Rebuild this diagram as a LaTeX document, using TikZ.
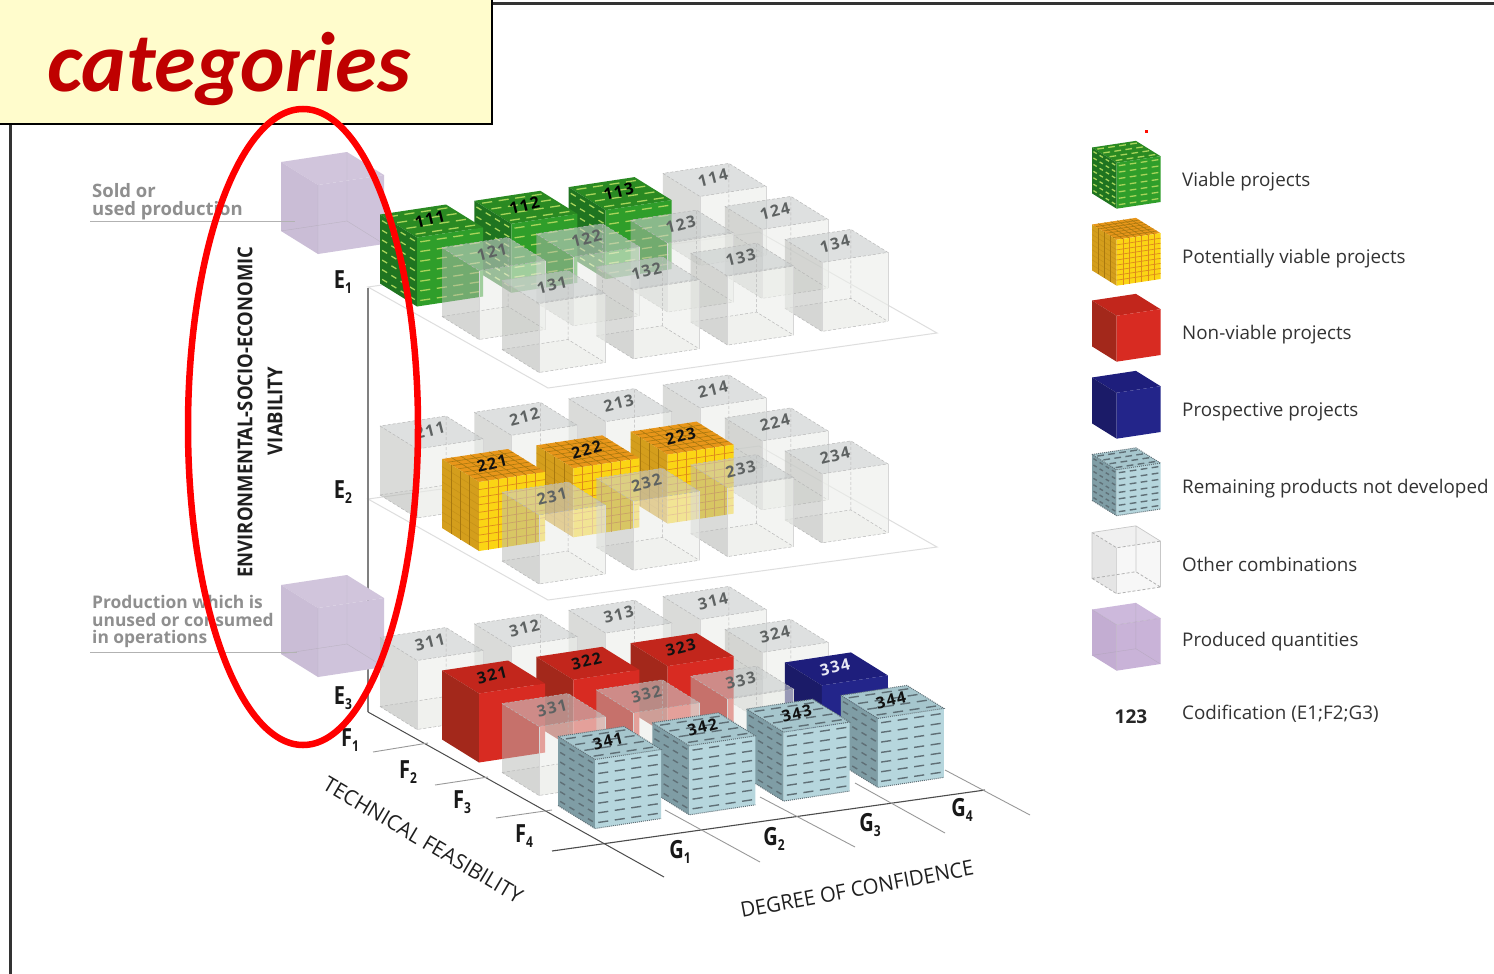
\documentclass[tikz,border=0pt]{standalone}
\usepackage{fontspec}
\setmainfont{Open Sans}
\newfontfamily\calib{Carlito}
\newfontfamily\labfont[LetterSpace=9]{Open Sans}
\definecolor{gtop}{HTML}{2A8A22}\definecolor{gleft}{HTML}{1F7420}\definecolor{gright}{HTML}{2F9E2A}\definecolor{gdash}{HTML}{A8D45A}
\definecolor{ytop}{HTML}{E8961A}\definecolor{yleft}{HTML}{D49E1C}\definecolor{yright}{HTML}{FBD514}\definecolor{yline}{HTML}{DD8A1C}\definecolor{ystripe}{HTML}{A8780F}
\definecolor{rtop}{HTML}{C2261C}\definecolor{rleft}{HTML}{A3281B}\definecolor{rright}{HTML}{D82B22}
\definecolor{btop}{HTML}{1E1E7C}\definecolor{bleft}{HTML}{1B1B68}\definecolor{bright}{HTML}{23258A}
\definecolor{ctop}{HTML}{A6C6CD}\definecolor{cleft}{HTML}{7F9DA5}\definecolor{cright}{HTML}{B6D6DD}\definecolor{cdash}{HTML}{5F6F76}
\definecolor{ptop}{HTML}{D1C5DC}\definecolor{pleft}{HTML}{CABDD6}\definecolor{pright}{HTML}{CFC3DB}
\definecolor{qtop}{HTML}{CDB9DC}\definecolor{qleft}{HTML}{C3ADD2}\definecolor{qright}{HTML}{C9B3D8}
\definecolor{labgreen}{HTML}{000000}\definecolor{labyellow}{HTML}{111111}\definecolor{labred}{HTML}{111111}\definecolor{labblue}{HTML}{E8E8F4}\definecolor{labcyan}{HTML}{111111}\definecolor{labghost}{HTML}{5E6262}
\definecolor{gface}{HTML}{B6B8B4}\definecolor{gfront}{HTML}{ECEEEA}\definecolor{gcap}{HTML}{C8CCCC}
\definecolor{legtext}{HTML}{333333}\definecolor{grayt}{HTML}{8F8F8F}
\newcommand\sbs[1]{\raisebox{-.38ex}{\fontsize{15}{15}\selectfont #1}}
\tikzset{
 lab/.style={font=\labfont\bfseries\fontsize{16}{16}\selectfont,rotate=14,inner sep=0pt},
 axlab/.style={font=\bfseries\fontsize{25}{25}\selectfont,text=black!90,inner sep=0pt,xscale=.8},
 legt/.style={font=\fontsize{18.8}{20}\selectfont,text=legtext,anchor=west,inner sep=0pt},
 sidet/.style={font=\bfseries\fontsize{18.5}{18}\selectfont,text=grayt,anchor=base west,inner sep=0pt},
 sidetb/.style={font=\bfseries\fontsize{17.4}{18}\selectfont,text=grayt,anchor=base west,inner sep=0pt},
 axt/.style={font=\fontsize{21}{21}\selectfont,text=black!88,inner sep=0pt},
 axb/.style={font=\bfseries\fontsize{20.5}{21}\selectfont,text=black!88,inner sep=0pt},
 gridl/.style={draw=black!40,line width=.9pt},
 plane/.style={fill=white,draw=black!13,line width=1pt},
 hid/.style={draw=black!28,line width=.5pt,densely dashed}
}
\newcommand\faces[3]{%
 \fill[#1] (0,0)--(66,-10)--(103,13)--(37,23)--cycle;
 \fill[#2] (0,0)--(37,23)--(37,92)--(0,69)--cycle;
 \fill[#3] (37,23)--(103,13)--(103,82)--(37,92)--cycle;}
\newcommand\dashes[2]{%
 \foreach \u in {.125,.375,.625,.875}{\foreach \v in {.07,.21,.35,.5,.64,.78,.92}{%
  \draw[#1,line width=#2] ({37+66*\u-5},{23-10*\u+69*\v+.75})--++(10,-1.5);
  \draw[#1,line width=#2] ({37*\u-2.5},{23*\u+69*\v-1.5})--++(5,3);}}%
 \foreach \u in {.125,.375,.625,.875}{\foreach \v in {.125,.375,.625,.875}{%
  \draw[#1,line width=#2] ({37*\u+66*\v-5},{23*\u-10*\v+.75})--++(10,-1.5);}}}
\newcommand\cubegreen{\faces{gtop}{gleft}{gright}\dashes{gdash}{1.3pt}}
\newcommand\cubecyan{\faces{ctop}{cleft}{cright}\dashes{cdash}{1.4pt}%
 \draw[cdash,line width=1pt,densely dotted] (0,0)--(66,-10)--(103,13)--(37,23)--cycle (0,69)--(37,92)--(103,82);}
\newcommand\cubeyellow{\faces{ytop}{yleft}{yright}%
 \foreach \v in {.11,.22,...,.95}{\draw[yline,line width=.7pt] (37,{23+69*\v})--(103,{13+69*\v});
  \draw[ystripe,opacity=.35,line width=.5pt] (0,{69*\v})--(37,{23+69*\v});}
 \foreach \u in {.143,.286,.429,.571,.714,.857}{\draw[yline,line width=.7pt] ({37+66*\u},{23-10*\u})--++(0,69);
  \draw[ystripe,line width=.6pt] ({66*\u},{-10*\u})--++(37,23);
  \draw[ystripe,line width=.6pt] ({37*\u},{23*\u})--++(66,-10);}
 \foreach \u in {.25,.5,.75}{\draw[ystripe,line width=.7pt] ({37*\u},{23*\u})--++(0,69);}}
\newcommand\cubered{\faces{rtop}{rleft}{rright}}
\newcommand\cubeblue{\faces{btop}{bleft}{bright}}
\newcommand\cubepurple{\faces{ptop}{pleft}{pright}%
 \draw[black!40,line width=.4pt,opacity=.35] (66,-10)--(66,59)--(0,69) (66,59)--(103,82) (37,23)--(37,92);}
\newcommand\cubepurpleleg{\faces{qtop}{qleft}{qright}%
 \draw[black!40,line width=.4pt,opacity=.35] (66,-10)--(66,59)--(0,69) (66,59)--(103,82) (37,23)--(37,92) (0,0)--(37,23)--(103,13);}
\newcommand\cubeghost{%
 \fill[gface,opacity=.12] (0,69)--(66,59)--(103,82)--(37,92)--cycle;
 \fill[gface,opacity=.5] (0,0)--(37,23)--(37,92)--(0,69)--cycle;
 \fill[gfront,opacity=.6] (37,23)--(103,13)--(103,82)--(37,92)--cycle;
 \fill[gcap,opacity=.6] (0,0)--(66,-10)--(103,13)--(37,23)--cycle;
 \draw[hid] (0,69)--(66,59)--(103,82) (66,59)--(66,-10) (0,69)--(37,92)--(103,82) (0,0)--(37,23)--(103,13)--(66,-10)--cycle;
 \draw[draw=black!16,line width=.4pt] (37,23)--(37,92) (103,13)--(103,82);}
\newcommand\cubepale{%
 \fill[black!10] (0,0)--(37,23)--(37,92)--(0,69)--cycle;
 \fill[black!3] (37,23)--(103,13)--(103,82)--(37,92)--cycle;
 \fill[black!6] (0,0)--(66,-10)--(103,13)--(37,23)--cycle;
 \draw[black!30,line width=.8pt,densely dashed] (0,0)--(37,23)--(103,13) (0,69)--(66,59)--(103,82) (0,69)--(37,92)--(103,82);
 \draw[black!22,line width=.7pt] (0,0)--(66,-10)--(103,13)--(103,82) (0,0)--(0,69) (37,23)--(37,92) (66,-10)--(66,59);}
\newcommand\putcube[4]{\begin{scope}[shift={(#1,#2)},scale=#3]\csname cube#4\endcsname\end{scope}}
\begin{document}
\begin{tikzpicture}[x=1pt,y=-1pt]
\useasboundingbox (0,0) rectangle (1494,974);
\fill[white] (0,0) rectangle (1494,974);
% frame
\coordinate (ft) at (492,4);\coordinate (fr) at (1494,4);
\draw[black!80,line width=3pt] (ft)--(fr);
\coordinate (fl) at (10,124);\coordinate (fb) at (10,974);
\draw[black!80,line width=3pt] (fl)--(fb);
% planes
\filldraw[plane] (368,287)--(548,388)--(937,333)--(759,232)--cycle;
\filldraw[plane] (368,499)--(548,600)--(937,547)--(759,446)--cycle;
% axis
\coordinate (v1) at (368,288);\coordinate (v2) at (368,712);
\draw[black!50,line width=1.4pt] (v1)--(v2);
\coordinate (fa) at (664,877);
\draw[black!70,line width=1pt] (v2)--(fa);
\coordinate (ga1) at (552,851);\coordinate (ga2) at (985,790);
\draw[black!70,line width=1.1pt] (ga1)--(ga2);
\draw[gridl] (373,752)--(428,743);
\draw[gridl] (435,785)--(488,777);
\draw[gridl] (496,818)--(552,810);
\draw[gridl] (665,810)--(760,862);
\draw[gridl] (760,797)--(855,847);
\draw[gridl] (855,783)--(945,833);
\draw[gridl] (945,770)--(1030,815);
% purple
\putcube{281}{162}{1}{purple}
\putcube{281}{585}{1}{purple}
% grid cubes
\foreach \e/\f/\g/\t in {
 1/1/4/ghost,1/1/3/green,1/1/2/green,1/1/1/green,
 1/2/4/ghost,1/2/3/ghost,1/2/2/ghost,1/2/1/ghost,
 1/3/4/ghost,1/3/3/ghost,1/3/2/ghost,1/3/1/ghost,
 2/1/4/ghost,2/1/3/ghost,2/1/2/ghost,2/1/1/ghost,
 2/2/4/ghost,2/2/3/yellow,2/2/2/yellow,2/2/1/yellow,
 2/3/4/ghost,2/3/3/ghost,2/3/2/ghost,2/3/1/ghost,
 3/1/4/ghost,3/1/3/ghost,3/1/2/ghost,3/1/1/ghost,
 3/2/4/ghost,3/2/3/red,3/2/2/red,3/2/1/red,
 3/3/4/blue,3/3/3/ghost,3/3/2/ghost,3/3/1/ghost,
 3/4/4/cyan,3/4/3/cyan,3/4/2/cyan,3/4/1/cyan}{
 \pgfmathtruncatemacro\fidx{\f-1}
 \pgfmathsetmacro\off{{0,62,122,178}[\fidx]}
 \pgfmathsetmacro\cx{380+\off+(\g-1)*94.3}
 \pgfmathsetmacro\cy{219+(\e-1)*211.5-(\g-1)*13.7+(\f-1)*33}
 \putcube{\cx}{\cy-4.5}{1}{\t}
 \node[lab,text=lab\t] (c\e\f\g) at (\cx+50,\cy) {\e\f\g};
}
% side labels
\node[sidet] (s1) at (92,197) {Sold or};
\node[sidet] (s2) at (92,215) {used production};
\coordinate (u1a) at (90,221);\coordinate (u1b) at (295,221);
\draw[black!30,line width=1pt] (u1a)--(u1b);
\node[sidetb] (s3) at (92,608) {Production which is};
\node[sidetb] (s4) at (92,626) {unused or consumed};
\node[sidetb] (s5) at (92,643) {in operations};
\coordinate (u2a) at (90,652);\coordinate (u2b) at (297,652);
\draw[black!30,line width=1pt] (u2a)--(u2b);
% axis labels
\node[axlab] (E1) at (343,282) {E\sbs{1}};
\node[axlab] (E2) at (343,492) {E\sbs{2}};
\node[axlab] (E3) at (343,698) {E\sbs{3}};
\node[axlab] (F1) at (350,740) {F\sbs{1}};
\node[axlab] (F2) at (408,772) {F\sbs{2}};
\node[axlab] (F3) at (462,802) {F\sbs{3}};
\node[axlab] (F4) at (524,836) {F\sbs{4}};
\node[axlab] (G1) at (680,852) {G\sbs{1}};
\node[axlab] (G2) at (774,839) {G\sbs{2}};
\node[axlab] (G3) at (870,825) {G\sbs{3}};
\node[axlab] (G4) at (962,810) {G\sbs{4}};
\node[axt,rotate=-30.5,xscale=.99] (tf) at (423,840) {TECHNICAL FEASIBILITY};
\node[axt,rotate=10.5,xscale=.96] (dc) at (857,889) {DEGREE OF CONFIDENCE};
\node[axb,rotate=90,xscale=.9] (env) at (245,412) {ENVIRONMENTAL-SOCIO-ECONOMIC};
\node[axb,rotate=90,xscale=.9] (via) at (275,411) {VIABILITY};
% legend
\fill[red!90!orange] (1145,130) rectangle (1148,132.5);
\putcube{1092}{147.5}{.665}{green}
\putcube{1092}{224.5}{.665}{yellow}
\putcube{1092}{300.5}{.665}{red}
\putcube{1092}{377.5}{.665}{blue}
\putcube{1092}{454.5}{.665}{cyan}
\putcube{1092}{532.5}{.665}{pale}
\putcube{1092}{609.5}{.665}{purpleleg}
\node[legt] (l1) at (1182,181.5) {Viable projects};
\node[legt] (l2) at (1182,258.5) {Potentially viable projects};
\node[legt] (l3) at (1182,334.5) {Non-viable projects};
\node[legt] (l4) at (1182,411.5) {Prospective projects};
\node[legt] (l5) at (1182,488.5) {Remaining products not developed};
\node[legt] (l6) at (1182,564.5) {Other combinations};
\node[legt] (l7) at (1182,642) {Produced quantities};
\node[legt] (l8) at (1182,714) {Codification (E1;F2;G3)};
\node[font=\bfseries\fontsize{19}{19}\selectfont,text=black!85,inner sep=0pt] (l9) at (1131,717) {123};
% title
\draw[black,fill=yellow!20!white,line width=1.2pt] (-2,-2) rectangle (492,124);
\node[font=\calib\bfseries\itshape\fontsize{84.5}{85}\selectfont,text=red!75!black,anchor=base west,inner sep=0pt] (cat) at (47,92) {categories};
% ellipse
\draw[red,line width=6.5pt] (303,427) ellipse [x radius=115,y radius=318];
\end{tikzpicture}
\end{document}
